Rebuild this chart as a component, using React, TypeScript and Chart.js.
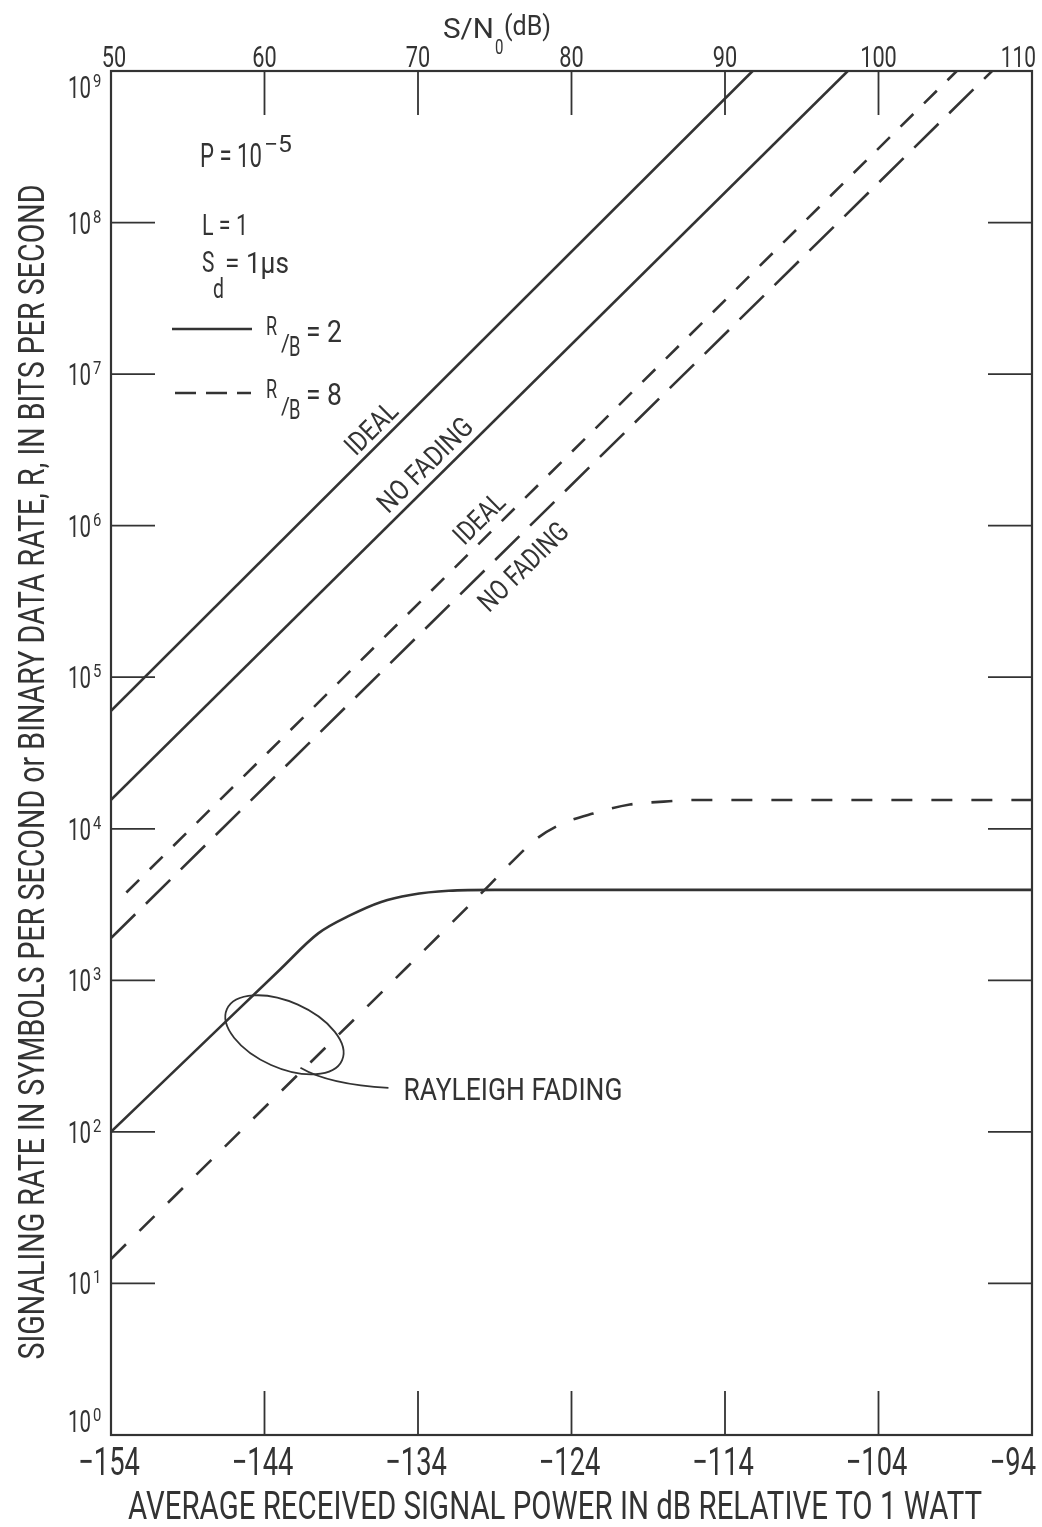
import { useEffect, useRef } from 'react';
import { Chart, registerables } from 'chart.js';

Chart.register(...registerables);

// Axis ticks
const powerTicks = [-154, -144, -134, -124, -114, -104, -94];
const snrTicks = [50, 60, 70, 80, 90, 100, 110];
const rateExponents = [0, 1, 2, 3, 4, 5, 6, 7, 8, 9];

// R/B = 2, ideal and no fading (straight lines)
const idealR2Power = [-154, -112.2];
const idealR2Rate = [6.0e4, 1e9];
const noFadeR2Power = [-154, -106.0];
const noFadeR2Rate = [1.55e4, 1e9];

// R/B = 8, ideal and no fading
const idealR8Power = [-153, -98.9];
const idealR8Rate = [3.8e3, 1e9];
const noFadeR8Power = [-154, -96.6];
const noFadeR8Rate = [1.9e3, 1e9];

// Rayleigh fading curves
const rayleighR2Power = [-154, -147, -143, -140.5, -138.4, -136.4, -134.5, -132, -129, -94];
const rayleighR2Rate = [100, 480, 1175, 2040, 2690, 3290, 3660, 3900, 3950, 3950];
const rayleighR8Power = [-154, -145, -136, -129.3, -127.8, -126.2, -124.7, -122.6, -120.2, -118, -115.8, -94];
const rayleighR8Rate = [14.5, 115, 908, 4300, 6170, 8710, 10700, 12600, 14450, 15100, 15500, 15500];

// Ellipse marking the Rayleigh curves
const ellipsePower = -142.7;
const ellipseRate = 437;

const INK = '#333333';
const FONT = 'Roboto, "DejaVu Sans", sans-serif';

const zip = (xs: number[], ys: number[]) => xs.map((x, i) => ({ x, y: ys[i] }));

type TextOpts = {
  sx?: number;
  width?: number;
  align?: CanvasTextAlign;
  baseline?: CanvasTextBaseline;
  angle?: number;
};

function drawText(ctx: CanvasRenderingContext2D, s: string, x: number, y: number, size: number, o: TextOpts = {}) {
  ctx.save();
  ctx.translate(x, y);
  if (o.angle) ctx.rotate(o.angle);
  ctx.font = `${size}px ${FONT}`;
  const w = ctx.measureText(s).width;
  const sx = o.width ? o.width / w : o.sx ?? 0.72;
  ctx.scale(sx, 1);
  ctx.textAlign = o.align ?? 'left';
  ctx.textBaseline = o.baseline ?? 'alphabetic';
  ctx.fillStyle = INK;
  ctx.fillText(s, 0, 0);
  ctx.restore();
}

const decorations = {
  id: 'decorations',
  afterDatasetsDraw(chart: any) {
    const ctx: CanvasRenderingContext2D = chart.ctx;
    const { left, right, top, bottom } = chart.chartArea;
    const xs = chart.scales.x;
    const xt = chart.scales.x2;
    const ys = chart.scales.y;
    const tickLen = 44;

    ctx.save();
    ctx.strokeStyle = INK;
    ctx.lineCap = 'butt';

    // frame
    ctx.lineWidth = 2.2;
    ctx.strokeRect(left, top, right - left, bottom - top);

    // inward ticks
    ctx.lineWidth = 1.8;
    ctx.beginPath();
    rateExponents.forEach((e) => {
      if (e === 0 || e === 9) return;
      const y = ys.getPixelForValue(Math.pow(10, e));
      ctx.moveTo(left, y);
      ctx.lineTo(left + tickLen, y);
      ctx.moveTo(right, y);
      ctx.lineTo(right - tickLen, y);
    });
    powerTicks.slice(1, -1).forEach((p) => {
      const x = xs.getPixelForValue(p);
      ctx.moveTo(x, bottom);
      ctx.lineTo(x, bottom - tickLen);
    });
    snrTicks.slice(1, -1).forEach((s) => {
      const x = xt.getPixelForValue(s);
      ctx.moveTo(x, top);
      ctx.lineTo(x, top + tickLen);
    });
    ctx.stroke();

    // y tick labels 10^n
    rateExponents.forEach((e) => {
      const y = ys.getPixelForValue(Math.pow(10, e));
      let base = y + 11;
      if (e === 9) base = y + 27;
      if (e === 0) base = y - 3;
      drawText(ctx, '10', 91, base, 32, { width: 23, align: 'right' });
      drawText(ctx, String(e), 93, base - 11, 19, { sx: 0.78 });
    });

    // bottom tick labels
    powerTicks.forEach((p, i) => {
      const x = xs.getPixelForValue(p);
      const label = '\u2212' + String(Math.abs(p));
      if (i === powerTicks.length - 1) {
        drawText(ctx, label, x + 4, bottom + 40, 39, { sx: 0.7, align: 'right' });
      } else {
        drawText(ctx, label, x - 2, bottom + 40, 39, { sx: 0.7, align: 'center' });
      }
    });

    // top tick labels
    snrTicks.forEach((s, i) => {
      const x = xt.getPixelForValue(s);
      if (i === snrTicks.length - 1) {
        drawText(ctx, String(s), x + 4, top - 4, 29, { sx: 0.72, align: 'right' });
      } else {
        drawText(ctx, String(s), x + (s === 50 ? 3 : 0), top - 4, 29, { sx: 0.75, align: 'center' });
      }
    });

    // top axis title S/N0(dB)
    drawText(ctx, 'S/N', 443, 38, 28, { width: 51 });
    drawText(ctx, '0', 495, 54, 20, { sx: 0.75 });
    drawText(ctx, '(dB)', 504, 35, 28, { width: 47 });

    // bottom axis title
    drawText(ctx, 'AVERAGE RECEIVED SIGNAL POWER IN dB RELATIVE TO 1 WATT', 128, 1519, 38, { width: 854 });

    // left axis title
    ctx.save();
    ctx.translate(44, 772);
    ctx.rotate(-Math.PI / 2);
    drawText(ctx, 'SIGNALING RATE IN SYMBOLS PER SECOND or BINARY DATA RATE, R, IN BITS PER SECOND', 0, 0, 36, {
      width: 1175,
      align: 'center',
    });
    ctx.restore();

    // parameter block
    drawText(ctx, 'P = 10', 200, 167, 34, { width: 62 });
    drawText(ctx, '\u22125', 264, 152, 23, { width: 28 });
    drawText(ctx, 'L = 1', 202, 235, 29, { width: 46 });
    drawText(ctx, 'S', 202, 272, 29, { sx: 0.72 });
    drawText(ctx, 'd', 213, 298, 27, { sx: 0.72 });
    drawText(ctx, '= 1\u03bcs', 225, 273, 29, { width: 64 });

    // line-style key
    ctx.lineWidth = 2.4;
    ctx.beginPath();
    ctx.moveTo(172, 329);
    ctx.lineTo(252, 329);
    ctx.stroke();
    ctx.setLineDash([21, 10]);
    ctx.beginPath();
    ctx.moveTo(175, 393);
    ctx.lineTo(251, 393);
    ctx.stroke();
    ctx.setLineDash([]);
    [
      { y: 0, v: '2' },
      { y: 63, v: '8' },
    ].forEach(({ y, v }) => {
      drawText(ctx, 'R', 266, 335 + y, 25, { sx: 0.72 });
      drawText(ctx, '/', 281, 351 + y, 24, { sx: 0.9 });
      drawText(ctx, 'B', 289, 356 + y, 27, { sx: 0.68 });
      drawText(ctx, '= ' + v, 306, 342 + y, 31, { width: 36 });
    });

    // labels along straight lines
    const lineLabel = (di: number, foot: number, offset: number, text: string, length: number) => {
      const pts = chart.getDatasetMeta(di).data;
      const p0 = pts[0];
      const p1 = pts[pts.length - 1];
      const a = Math.atan2(p1.y - p0.y, p1.x - p0.x);
      const fx = xs.getPixelForValue(foot);
      const fy = p0.y + ((fx - p0.x) * (p1.y - p0.y)) / (p1.x - p0.x);
      const nx = Math.sin(a);
      const ny = -Math.cos(a);
      drawText(ctx, text, fx + nx * offset, fy + ny * offset, 28, {
        width: length,
        align: 'center',
        baseline: 'middle',
        angle: a,
      });
    };
    lineLabel(0, -136.3, 14, 'IDEAL', 62);
    lineLabel(1, -132.75, 15, 'NO FADING', 122);
    lineLabel(2, -129.2, 15.5, 'IDEAL', 60);
    lineLabel(3, -128.26, -26.7, 'NO FADING', 114);

    // Rayleigh fading marker
    const cx = xs.getPixelForValue(ellipsePower);
    const cy = ys.getPixelForValue(ellipseRate);
    ctx.lineWidth = 1.8;
    ctx.beginPath();
    ctx.ellipse(cx, cy, 63, 33, (24 * Math.PI) / 180, 0, Math.PI * 2);
    ctx.stroke();
    ctx.beginPath();
    ctx.moveTo(cx + 16, cy + 33);
    ctx.quadraticCurveTo(cx + 45, cy + 50, cx + 104, cy + 53);
    ctx.stroke();
    drawText(ctx, 'RAYLEIGH FADING', cx + 119, cy + 65, 31, { width: 219 });

    ctx.restore();
  },
};

export default function App() {
  const canvasRef = useRef<HTMLCanvasElement | null>(null);

  useEffect(() => {
    if (!canvasRef.current) return;
    const line = (data: { x: number; y: number }[], dash: number[], smooth = false) => ({
      data,
      showLine: true,
      borderColor: INK,
      borderWidth: 2.6,
      borderDash: dash,
      pointRadius: 0,
      pointHoverRadius: 0,
      fill: false,
      cubicInterpolationMode: smooth ? ('monotone' as const) : ('default' as const),
      tension: 0,
    });
    const chart = new Chart(canvasRef.current, {
      type: 'scatter',
      data: {
        datasets: [
          line(zip(idealR2Power, idealR2Rate), []),
          line(zip(noFadeR2Power, noFadeR2Rate), []),
          line(zip(idealR8Power, idealR8Rate), [18, 15]),
          line(zip(noFadeR8Power, noFadeR8Rate), [34, 15]),
          line(zip(rayleighR2Power, rayleighR2Rate), [], true),
          line(zip(rayleighR8Power, rayleighR8Rate), [21, 19], true),
        ],
      },
      options: {
        responsive: false,
        animation: false,
        events: [],
        layout: { padding: { left: 111, right: 10, top: 71, bottom: 92 } },
        plugins: { legend: { display: false }, tooltip: { enabled: false } },
        scales: {
          x: { type: 'linear', min: -154, max: -94, display: false },
          x2: { type: 'linear', min: 50, max: 110, display: false, position: 'top' },
          y: { type: 'logarithmic', min: 1, max: 1e9, display: false },
        },
      },
      plugins: [decorations],
    });
    return () => chart.destroy();
  }, []);

  return (
    <div style={{ position: 'absolute', left: 0, top: 0, width: 1042, height: 1527, background: '#ffffff' }}>
      <canvas ref={canvasRef} width={1042} height={1527} style={{ display: 'block' }} />
    </div>
  );
}
